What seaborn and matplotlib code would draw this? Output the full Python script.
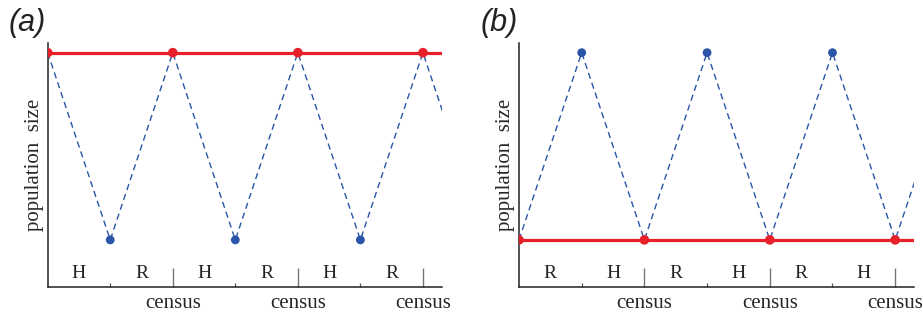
import matplotlib
matplotlib.use("Agg")
import matplotlib.pyplot as plt
import seaborn as sns
import pandas as pd

# time steps (half-periods) and population levels
time_steps = [0, 1, 2, 3, 4, 5, 6, 7]
size_a = [1.0, 0.2, 1.0, 0.2, 1.0, 0.2, 1.0, 0.2]
size_b = [0.2, 1.0, 0.2, 1.0, 0.2, 1.0, 0.2, 1.0]
census_steps = [0, 2, 4, 6]
census_ticks = [2, 4, 6]
half_ticks = [1, 3, 5]
phases_a = ["H", "R", "H", "R", "H", "R"]
phases_b = ["R", "H", "R", "H", "R", "H"]
census_labels = ["census", "census", "census"]
panel_names = ["(a)", "(b)"]

RED = "#e8202a"
BLUE = "#2a55a8"
SERIF = "Liberation Serif"

sns.set_theme(style="ticks")
plt.rcParams["font.family"] = [SERIF, "DejaVu Serif"]

W, H = 923, 314
fig = plt.figure(figsize=(W / 100, H / 100), dpi=100)


def panel(left_px, right_px, sizes, phases):
    ax = fig.add_axes([left_px / W, (H - 286.7) / H,
                       (right_px - left_px) / W, (286.7 - 43.3) / H])
    df = pd.DataFrame({"t": time_steps, "n": sizes})
    cen = df[df["t"].isin(census_steps)]
    mid = df[~df["t"].isin(census_steps) & (df["t"] < 6.3)]

    sns.lineplot(data=df, x="t", y="n", ax=ax, color=BLUE, lw=1.0,
                 linestyle=(0, (4.5, 3)), zorder=2)
    ax.axhline(cen["n"].iloc[0], color=RED, lw=2.3, zorder=3)
    sns.scatterplot(data=cen, x="t", y="n", ax=ax, color=RED, s=48,
                    edgecolor="none", zorder=4)
    sns.scatterplot(data=mid, x="t", y="n", ax=ax, color=BLUE, s=40,
                    edgecolor="none", zorder=4)

    ax.set_xlim(0, 6.3)
    ax.set_ylim(0, 1.04)
    ax.set_yticks([])
    ax.set_xticks(census_ticks)
    ax.set_xticklabels(census_labels, fontsize=15, family=SERIF)
    ax.set_xticks(half_ticks, minor=True)
    ax.tick_params(axis="x", which="major", direction="in", length=13.5,
                   width=1.0, color="#777777", pad=5.5)
    ax.tick_params(axis="x", which="minor", direction="in", length=3,
                   width=0.9, color="#555555")
    for i, p in enumerate(phases):
        ax.text(i + 0.5, 0.058, p, ha="center", va="center", fontsize=14,
                family=SERIF, color="#222222")

    ax.set_xlabel("")
    ax.set_ylabel("population  size", fontsize=15, family=SERIF, labelpad=3)
    sns.despine(ax=ax)
    for s in ["left", "bottom"]:
        ax.spines[s].set_linewidth(1.1)
        ax.spines[s].set_color("#222222")
    ax.set_facecolor("white")
    return ax


panel(47.7, 441.7, size_a, phases_a)
panel(519, 914, size_b, phases_b)

fig.text(27 / W, 1 - 23 / H, panel_names[0], ha="center", va="center",
         fontsize=22, style="italic", family="Liberation Sans", color="#222222")
fig.text(499 / W, 1 - 23 / H, panel_names[1], ha="center", va="center",
         fontsize=22, style="italic", family="Liberation Sans", color="#222222")

fig.savefig("out.png", dpi=100, facecolor="white")
